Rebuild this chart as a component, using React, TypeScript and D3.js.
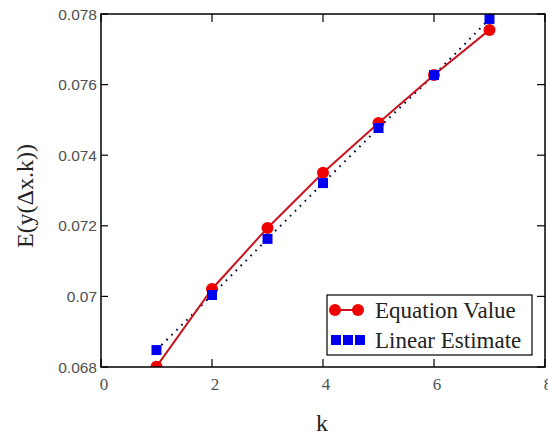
import React from "react";
import * as d3 from "d3";

const kValues = [1, 2, 3, 4, 5, 6, 7];
const equationValues = [0.06801, 0.07021, 0.07194, 0.0735, 0.07491, 0.07627, 0.07755];
const linearValues = [0.06848, 0.07004, 0.07163, 0.07321, 0.07477, 0.07627, 0.07786];
const xTicks = [0, 2, 4, 6, 8];
const yTicks = [0.068, 0.07, 0.072, 0.074, 0.076, 0.078];
const yTickLabels = ["0.068", "0.07", "0.072", "0.074", "0.076", "0.078"];
const legendLabels = ["Equation Value", "Linear Estimate"];

const W = 548, H = 435;
const L = 101, R = 545, T = 14, B = 367;

export default function App() {
  const x = d3.scaleLinear().domain([0, 8]).range([L, R]);
  const y = d3.scaleLinear().domain([0.068, 0.078]).range([B, T]);
  const line = d3.line<number>().x((_, i) => x(kValues[i])).y((d) => y(d));
  const serif = "'Liberation Serif', 'Times New Roman', serif";
  const sans = "'Liberation Sans', Arial, sans-serif";
  const sq = 10;
  return (
    <svg width={W} height={H} style={{ position: "absolute", left: 0, top: 0, background: "#fff" }}>
      <defs>
        <clipPath id="plotclip">
          <rect x={L} y={T} width={R - L} height={B - T} />
        </clipPath>
      </defs>
      <rect x={0} y={0} width={W} height={H} fill="#fff" />
      <g clipPath="url(#plotclip)">
        <path d={line(linearValues) || ""} fill="none" stroke="#000033" strokeWidth={2} strokeDasharray="1.6 5.4" />
        <path d={line(equationValues) || ""} fill="none" stroke="#c8141e" strokeWidth={2} />
        {equationValues.map((v, i) => (
          <circle key={"c" + i} cx={x(kValues[i])} cy={y(v)} r={6} fill="#f00000" />
        ))}
        {linearValues.map((v, i) => (
          <rect key={"s" + i} x={x(kValues[i]) - sq / 2} y={y(v) - sq / 2} width={sq} height={sq} fill="#0000ee" />
        ))}
      </g>
      <rect x={L} y={T} width={R - L} height={B - T} fill="none" stroke="#000" strokeWidth={1.5} />
      {yTicks.map((t, i) => (
        <g key={"yt" + i}>
          <line x1={L} x2={L + 7} y1={y(t)} y2={y(t)} stroke="#000" strokeWidth={1.2} />
          <line x1={R - 8} x2={R} y1={y(t)} y2={y(t)} stroke="#000" strokeWidth={1.2} />
          <text x={L - 4} y={y(t)} dy="0.36em" textAnchor="end" fontFamily={sans} fontSize={15.5} fill="#505050">
            {yTickLabels[i]}
          </text>
        </g>
      ))}
      {xTicks.map((t, i) => (
        <g key={"xt" + i}>
          <line x1={x(t)} x2={x(t)} y1={B} y2={B - 8} stroke="#000" strokeWidth={1.2} />
          <line x1={x(t)} x2={x(t)} y1={T} y2={T + 8} stroke="#000" strokeWidth={1.2} />
          <text x={x(t) + 3} y={390} textAnchor="middle" fontFamily={serif} fontSize={17} fill="#505050">
            {t}
          </text>
        </g>
      ))}
      <text x={322} y={431} textAnchor="middle" fontFamily={serif} fontSize={24} fill="#222">k</text>
      <text transform={`translate(33, 196) rotate(-90)`} textAnchor="middle" fontFamily={serif} fontSize={24}
        fill="#222">
        E(y(Δx.k))
      </text>
      <g>
        <rect x={327} y={295} width={205} height={60} fill="#fff" stroke="#000" strokeWidth={1.2} />
        <line x1={335} x2={358} y1={310} y2={310} stroke="#c8141e" strokeWidth={2} />
        <circle cx={335} cy={310} r={6} fill="#f00000" />
        <circle cx={358} cy={310} r={6} fill="#f00000" />
        <text x={375} y={310} dy="0.35em" fontFamily={serif} fontSize={23} fill="#222">{legendLabels[0]}</text>
        {[0, 1, 2].map((j) => (
          <rect key={"ls" + j} x={331 + j * 12} y={335} width={10} height={10} fill="#0000ee" />
        ))}
        <text x={375} y={340} dy="0.35em" fontFamily={serif} fontSize={23} fill="#222">{legendLabels[1]}</text>
      </g>
    </svg>
  );
}
